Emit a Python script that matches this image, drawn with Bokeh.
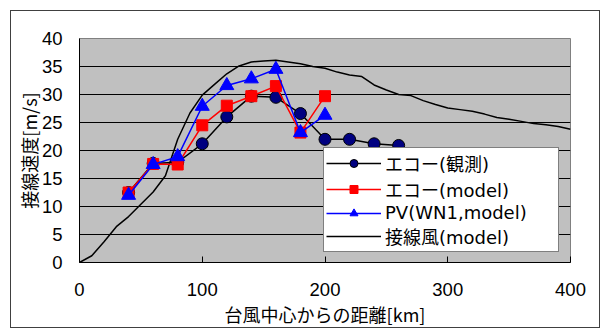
from bokeh.plotting import figure
from bokeh.models import Range1d, FixedTicker, Legend, LegendItem
from bokeh.embed import file_html
from bokeh.resources import INLINE

# Data
obs_x = [40, 60, 80, 100, 120, 140, 160, 180, 200, 220, 240, 260]
obs_y = [12.5, 17.7, 17.9, 21.2, 26.0, 29.7, 29.5, 26.6, 22.0, 22.0, 21.2, 20.9]

mod_x = [40, 60, 80, 100, 120, 140, 160, 180, 200]
mod_y = [12.5, 17.6, 17.5, 24.5, 28.0, 29.7, 31.5, 23.2, 29.7]

pv_x = [40, 60, 80, 100, 120, 140, 160, 180, 200]
pv_y = [12.0, 17.5, 18.9, 27.9, 31.6, 32.8, 34.5, 23.2, 26.3]

wind_x = list(range(0, 401, 10))
wind_y = [0.0, 1.2, 3.7, 6.4, 8.2, 10.4, 12.6, 15.5, 22.0, 26.7, 29.9, 31.8, 33.7,
          35.1, 35.8, 36.0, 36.1, 35.8, 35.5, 35.0, 34.7, 34.0, 33.5, 33.2, 31.7,
          30.8, 30.0, 29.8, 28.9, 28.2, 27.6, 27.3, 27.0, 26.5, 25.9, 25.6, 25.2,
          24.8, 24.6, 24.3, 23.8]

x_ticks = [0, 100, 200, 300, 400]
y_ticks = [0, 5, 10, 15, 20, 25, 30, 35, 40]

labels = ["エコー(観測)", "エコー(model)", "PV(WN1,model)", "接線風(model)"]
x_label = "台風中心からの距離[km]"
y_label = "接線速度[m/s]"

JP = "Noto Sans CJK JP"
MIX = "DejaVu Sans, Noto Sans CJK JP"
NUM = "Liberation Sans"

p = figure(width=590, height=318, output_backend="svg", toolbar_location=None,
           x_range=Range1d(0, 400), y_range=Range1d(0, 40),
           min_border_left=68, min_border_right=31, min_border_top=27, min_border_bottom=66)
p.styles = {"margin": "10px 0 0 10px", "border": "1px solid #404040"}

p.background_fill_color = "#c0c0c0"
p.border_fill_color = "white"
p.outline_line_color = "#808080"

p.xgrid.visible = False
p.ygrid.grid_line_color = "black"
p.ygrid.grid_line_width = 1
p.yaxis.ticker = FixedTicker(ticks=y_ticks)
p.xaxis.ticker = FixedTicker(ticks=x_ticks)
p.ygrid.ticker = FixedTicker(ticks=y_ticks[1:-1])

for ax in (p.xaxis[0], p.yaxis[0]):
    ax.axis_line_color = "black"
    ax.axis_line_width = 1
    ax.minor_tick_line_color = None
    ax.major_label_text_font = NUM
    ax.major_label_text_font_size = "18.5px"
    ax.major_label_text_color = "black"
    ax.axis_label_text_font = JP
    ax.axis_label_text_font_size = "18px"
    ax.axis_label_text_font_style = "normal"
    ax.axis_label_text_color = "black"

p.xaxis.major_tick_in = 6
p.xaxis.major_tick_out = 0
p.xaxis.major_tick_line_color = "black"
p.xaxis.major_label_standoff = 20
p.xaxis.axis_label = x_label
p.xaxis.axis_label_standoff = 2

p.yaxis.major_tick_in = 0
p.yaxis.major_tick_out = 0
p.yaxis.major_label_standoff = 17
p.yaxis.axis_label = y_label
p.yaxis.axis_label_standoff = -3

# renderers
w_line = p.line(wind_x, wind_y, line_color="black", line_width=1.5)

o_line = p.line(obs_x, obs_y, line_color="black", line_width=1.5)
o_pts = p.scatter(obs_x, obs_y, marker="circle", size=12, fill_color="#000080", line_color="black", line_width=1)

m_line = p.line(mod_x, mod_y, line_color="#ff0000", line_width=1.5)
m_pts = p.scatter(mod_x, mod_y, marker="square", size=11, fill_color="#ff0000", line_color="#ff0000")

v_line = p.line(pv_x, pv_y, line_color="#0000ff", line_width=1.5)
v_pts = p.scatter(pv_x, pv_y, marker="triangle", size=14, fill_color="#0000ff", line_color="#0000ff")

legend = Legend(items=[
    LegendItem(label=labels[0], renderers=[o_line, o_pts]),
    LegendItem(label=labels[1], renderers=[m_line, m_pts]),
    LegendItem(label=labels[2], renderers=[v_line, v_pts]),
    LegendItem(label=labels[3], renderers=[w_line]),
], location=(244, 10))
legend.label_text_font = MIX
legend.label_text_font_size = "18px"
legend.label_text_line_height = 1.0
legend.label_text_color = "black"
legend.glyph_width = 55
legend.glyph_height = 20
legend.label_height = 20
legend.label_width = 171
legend.spacing = 0
legend.padding = 2
legend.margin = 0
legend.label_standoff = 4
legend.border_line_color = "black"
legend.border_line_width = 1
legend.background_fill_color = "white"
legend.background_fill_alpha = 1
p.add_layout(legend, "center")

open("out.html", "w").write(file_html(p, INLINE))
